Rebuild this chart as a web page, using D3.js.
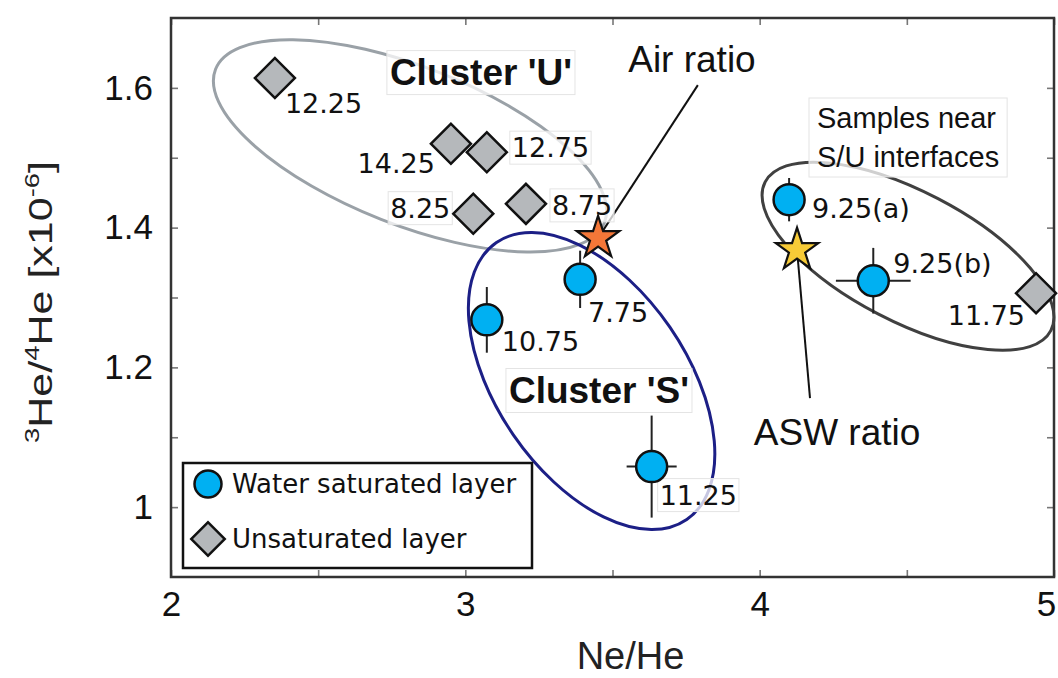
<!DOCTYPE html>
<html>
<head>
<meta charset="utf-8">
<script src="https://cdn.jsdelivr.net/npm/d3@7"></script>
<style>
body { margin: 0; background: #fff; }
svg { display: block; }
</style>
</head>
<body>
<svg id="drawing_region"></svg>
<script>
// saturated layer samples (circles)
const waterLabels = ["7.75", "10.75", "11.25", "9.25(a)", "9.25(b)"];
const waterNeHe = [3.390, 3.073, 3.633, 4.100, 4.386];
const waterHe = [1.326, 1.268, 1.058, 1.440, 1.324];
const waterErrX = [0, 0, 0.085, 0, 0.127];
const waterErrY = [0.041, 0.047, 0.073, 0.031, 0.047];

// unsaturated layer samples (diamonds)
const unsatLabels = ["12.25", "14.25", "12.75", "8.25", "8.75", "11.75"];
const unsatNeHe = [2.353, 2.951, 3.073, 3.027, 3.206, 4.939];
const unsatHe = [1.614, 1.520, 1.508, 1.420, 1.434, 1.306];

// reference ratios (stars)
const refNames = ["Air ratio", "ASW ratio"];
const refNeHe = [3.451, 4.127];
const refHe = [1.385, 1.368];

const xTickLabels = [2, 3, 4, 5];
const yTickLabels = [1, 1.2, 1.4, 1.6];

const W = 1058, H = 678;
const pL = 171, pR = 1054, pT = 18, pB = 577;

const svg = d3.select('#drawing_region').attr('width', W).attr('height', H);

const x = d3.scaleLinear().domain([2, 5]).range([pL, pR]);
const y = d3.scaleLinear().domain([0.9, 1.7]).range([pB, pT]);

const tickFont = "'Liberation Sans', Arial, sans-serif";
const lblFont = "'DejaVu Sans', Verdana, sans-serif";

// axes, ticks inward on all four sides
const xt = d3.range(4, 11).map(d => d / 2);
const yt = d3.range(10, 17).map(d => d / 10);
const isXLab = d => xTickLabels.includes(d);
const isYLab = d => yTickLabels.some(v => Math.abs(v - d) < 1e-9);

const gx = svg.append('g').attr('transform', `translate(0,${pB})`)
  .call(d3.axisBottom(x).tickValues(xt).tickSize(-7).tickPadding(14)
    .tickFormat(d => isXLab(d) ? d : ""));
const gy = svg.append('g').attr('transform', `translate(${pL},0)`)
  .call(d3.axisLeft(y).tickValues(yt).tickSize(-7).tickPadding(18)
    .tickFormat(d => isYLab(d) ? (d === 1 ? "1" : d.toFixed(1)) : ""));
const gxt = svg.append('g').attr('transform', `translate(0,${pT})`)
  .call(d3.axisTop(x).tickValues(xt).tickSize(-7).tickFormat(""));
const gyr = svg.append('g').attr('transform', `translate(${pR},0)`)
  .call(d3.axisRight(y).tickValues(yt).tickSize(-7).tickFormat(""));

[gx, gy, gxt, gyr].forEach(g => {
  g.select('.domain').remove();
  g.selectAll('.tick line').attr('stroke', '#777').attr('stroke-width', 1.6);
  g.selectAll('.tick text').attr('font-family', tickFont).attr('font-size', 35).attr('fill', '#111');
});
// the last x label sits at the page edge, nudge it in
gx.selectAll('.tick text').filter(d => d === 5).attr('dx', -8);

svg.append('rect')
  .attr('x', pL).attr('y', pT)
  .attr('width', pR - pL).attr('height', pB - pT)
  .attr('fill', 'none').attr('stroke', '#333').attr('stroke-width', 2.5);

// axis titles
svg.append('text')
  .attr('x', (pL + pR) / 2 + 18).attr('y', 669)
  .attr('text-anchor', 'middle')
  .attr('font-family', tickFont).attr('font-size', 38).attr('fill', '#222')
  .text('Ne/He');

const ytTitle = svg.append('text')
  .attr('transform', 'translate(52,302) rotate(-90)')
  .attr('text-anchor', 'middle')
  .attr('font-family', tickFont).attr('font-size', 33).attr('fill', '#222')
  .attr('textLength', 282).attr('lengthAdjust', 'spacingAndGlyphs');
ytTitle.append('tspan').attr('font-size', 21).attr('dy', -13).text('3');
ytTitle.append('tspan').attr('dy', 13).text('He/');
ytTitle.append('tspan').attr('font-size', 21).attr('dy', -13).text('4');
ytTitle.append('tspan').attr('dy', 13).text('He [x10');
ytTitle.append('tspan').attr('font-size', 21).attr('dy', -13).text('-6');
ytTitle.append('tspan').attr('dy', 13).text(']');

// cluster ellipses (centre in data units, radii/rotation in pixels)
const ellipses = [
  { cx: 2.812, cy: 1.517, rx: 209, ry: 79, rot: 21.5, color: '#9aa1a7' },
  { cx: 3.429, cy: 1.1805, rx: 168, ry: 95, rot: 55.5, color: '#1c1f86' },
  { cx: 4.504, cy: 1.359, rx: 161, ry: 65, rot: 27.5, color: '#404040' }
];
svg.selectAll('ellipse.cl')
  .data(ellipses).enter()
  .append('ellipse')
  .attr('class', 'cl')
  .attr('transform', d => `translate(${x(d.cx)},${y(d.cy)}) rotate(${d.rot})`)
  .attr('rx', d => d.rx).attr('ry', d => d.ry)
  .attr('fill', 'none').attr('stroke', d => d.color).attr('stroke-width', 3);

// helper for label boxes
function boxed(sel, pad) {
  sel.each(function () {
    const b = this.getBBox();
    d3.select(this.parentNode).insert('rect', () => this)
      .attr('x', b.x - pad).attr('y', b.y - pad / 2)
      .attr('width', b.width + 2 * pad).attr('height', b.height + pad)
      .attr('fill', '#fff').attr('fill-opacity', 0.75)
      .attr('stroke', '#e4e4e4').attr('stroke-width', 1);
  });
}

// cluster titles
const clusterTitles = [
  { t: "Cluster 'U'", x: 3.053, y: 1.604 },
  { t: "Cluster 'S'", x: 3.454, y: 1.149 }
];
const ct = svg.append('g');
ct.selectAll('text').data(clusterTitles).enter()
  .append('text')
  .attr('x', d => x(d.x)).attr('y', d => y(d.y))
  .attr('text-anchor', 'middle')
  .attr('font-family', tickFont).attr('font-size', 37).attr('font-weight', 'bold')
  .attr('fill', '#111')
  .text(d => d.t);
boxed(ct.selectAll('text'), 3);

const sg = svg.append('g');
const st = sg.append('text')
  .attr('font-family', tickFont).attr('font-size', 29).attr('fill', '#111');
st.append('tspan').attr('x', 817).attr('y', 128).text('Samples near');
st.append('tspan').attr('x', 817).attr('y', 167).text('S/U interfaces');
boxed(sg.selectAll('text'), 8);

// annotation leader lines and texts
const annot = [
  { lx: 3.790, ly: 1.604, tx: 3.770, ty: 1.623 },
  { lx: 4.171, ly: 1.156, tx: 4.263, ty: 1.089 }
];
svg.selectAll('line.lead')
  .data(refNames).enter()
  .append('line').attr('class', 'lead')
  .attr('x1', (d, i) => x(refNeHe[i])).attr('y1', (d, i) => y(refHe[i]))
  .attr('x2', (d, i) => x(annot[i].lx)).attr('y2', (d, i) => y(annot[i].ly))
  .attr('stroke', '#111').attr('stroke-width', 2);
svg.selectAll('text.ann')
  .data(refNames).enter()
  .append('text').attr('class', 'ann')
  .attr('x', (d, i) => x(annot[i].tx)).attr('y', (d, i) => y(annot[i].ty))
  .attr('text-anchor', 'middle')
  .attr('font-family', tickFont).attr('font-size', 37).attr('fill', '#111')
  .text(d => d);

// error bars
const water = waterLabels.map((l, i) => ({
  l: l, x: waterNeHe[i], y: waterHe[i], ex: waterErrX[i], ey: waterErrY[i]
}));
const unsat = unsatLabels.map((l, i) => ({ l: l, x: unsatNeHe[i], y: unsatHe[i] }));

const eb = svg.append('g').attr('stroke', '#222').attr('stroke-width', 2);
water.forEach(d => {
  if (d.ey > 0) eb.append('line')
    .attr('x1', x(d.x)).attr('x2', x(d.x))
    .attr('y1', y(d.y - d.ey)).attr('y2', y(d.y + d.ey));
  if (d.ex > 0) eb.append('line')
    .attr('y1', y(d.y)).attr('y2', y(d.y))
    .attr('x1', x(d.x - d.ex)).attr('x2', x(d.x + d.ex));
});

// data labels
const labelPos = {
  "7.75": [8, 43, 'start'], "10.75": [15, 31, 'start'], "11.25": [8, 38, 'start'],
  "9.25(a)": [23, 18, 'start'], "9.25(b)": [20, -8, 'start'],
  "12.25": [10, 35, 'start'], "14.25": [-16, 29, 'end'], "12.75": [25, 5, 'start'],
  "8.25": [-23, 4, 'end'], "8.75": [26, 11, 'start'], "11.75": [-11, 32, 'end']
};
const boxedLabels = ["12.75", "8.25", "8.75", "11.25"];
const lg = svg.append('g');
lg.selectAll('text').data(water.concat(unsat)).enter()
  .append('text')
  .attr('x', d => x(d.x) + labelPos[d.l][0])
  .attr('y', d => y(d.y) + labelPos[d.l][1])
  .attr('text-anchor', d => labelPos[d.l][2])
  .attr('font-family', lblFont).attr('font-size', 27).attr('fill', '#111')
  .text(d => d.l);
boxed(lg.selectAll('text').filter(d => boxedLabels.includes(d.l)), 2);

// points
const diamond = d3.symbol().type(d3.symbolSquare).size(800)();
svg.selectAll('path.unsat')
  .data(unsat).enter()
  .append('path').attr('class', 'unsat')
  .attr('d', diamond)
  .attr('transform', d => `translate(${x(d.x)},${y(d.y)}) rotate(45)`)
  .attr('fill', '#b5b8bb').attr('stroke', '#111').attr('stroke-width', 2.5);

svg.selectAll('circle.water')
  .data(water).enter()
  .append('circle').attr('class', 'water')
  .attr('cx', d => x(d.x)).attr('cy', d => y(d.y)).attr('r', 15.5)
  .attr('fill', '#00b0f2').attr('stroke', '#111').attr('stroke-width', 2.5);

const star = d3.symbol().type(d3.symbolStar).size(560)();
const starColors = ['#f47738', '#f7cb37'];
svg.selectAll('path.star')
  .data(refNames).enter()
  .append('path').attr('class', 'star')
  .attr('d', star)
  .attr('transform', (d, i) => `translate(${x(refNeHe[i])},${y(refHe[i])})`)
  .attr('fill', (d, i) => starColors[i]).attr('stroke', '#111').attr('stroke-width', 2.2);

// legend
const leg = svg.append('g');
leg.append('rect')
  .attr('x', 183).attr('y', 463).attr('width', 349).attr('height', 105)
  .attr('fill', '#fff').attr('stroke', '#111').attr('stroke-width', 2.5);
leg.append('circle')
  .attr('cx', 208).attr('cy', 484).attr('r', 13.5)
  .attr('fill', '#00b0f2').attr('stroke', '#111').attr('stroke-width', 2.5);
leg.append('path')
  .attr('d', d3.symbol().type(d3.symbolSquare).size(560)())
  .attr('transform', 'translate(208,539) rotate(45)')
  .attr('fill', '#b5b8bb').attr('stroke', '#111').attr('stroke-width', 2.5);
leg.selectAll('text')
  .data(['Water saturated layer', 'Unsaturated layer']).enter()
  .append('text')
  .attr('x', 232).attr('y', (d, i) => 493 + i * 55)
  .attr('font-family', lblFont).attr('font-size', 26).attr('fill', '#111')
  .text(d => d);
</script>
</body>
</html>
